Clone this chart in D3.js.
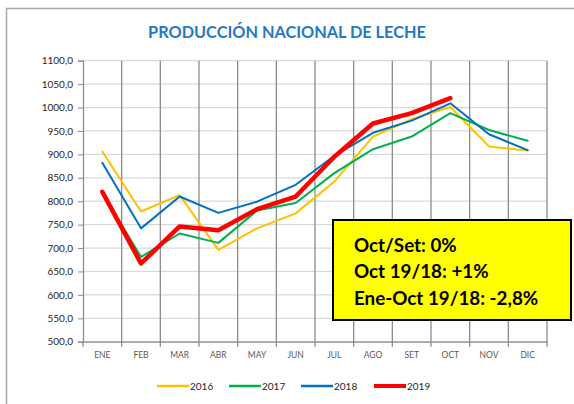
<!DOCTYPE html>
<html>
<head>
<meta charset="utf-8">
<script src="https://cdn.jsdelivr.net/npm/d3@7"></script>
<style>
  body { margin: 0; background: #fff; }
  text { font-family: Lato, "Open Sans", sans-serif; }
</style>
</head>
<body>
<div id="chart-area"></div>
<script>
// Data
var months = ["ENE", "FEB", "MAR", "ABR", "MAY", "JUN", "JUL", "AGO", "SET", "OCT", "NOV", "DIC"];
var yTicks = [500, 550, 600, 650, 700, 750, 800, 850, 900, 950, 1000, 1050, 1100];
var years = ["2016", "2017", "2018", "2019"];
var v2016 = [906, 778, 813, 696, 742, 774, 842, 938, 975, 1001, 917, 908];
var v2017 = [818, 681, 731, 711, 780, 796, 860, 911, 938, 988, 952, 929];
var v2018 = [882, 742, 810, 775, 799, 835, 897, 946, 972, 1009, 943, 909];
var v2019 = [820, 667, 746, 738, 783, 810, 895, 966, 988, 1020];
var noteLines = ["Oct/Set: 0%", "Oct 19/18: +1%", "Ene-Oct 19/18: -2,8%"];

var series = [
    {name: years[0], values: v2016, color: "#FFC000", width: 2},
    {name: years[1], values: v2017, color: "#00B050", width: 2},
    {name: years[2], values: v2018, color: "#0070C0", width: 2},
    {name: years[3], values: v2019, color: "#FF0000", width: 4.5}
];

var W = 574, H = 404;
var plotL = 83, plotR = 547, plotT = 60.7, plotB = 341.7;

var svg = d3.select("#chart-area").append("svg")
    .attr("width", W)
    .attr("height", H);

// outer chart frame (left and top edges visible)
svg.append("path")
    .attr("d", "M6.5,404V8.5H574")
    .attr("fill", "none")
    .attr("stroke", "#a6a6a6")
    .attr("stroke-width", 1.5);

// Title
svg.append("text")
    .attr("x", 287)
    .attr("y", 38)
    .attr("text-anchor", "middle")
    .attr("fill", "#1f78c8")
    .attr("font-weight", "bold")
    .attr("font-size", 16.3)
    .text("PRODUCCIÓN NACIONAL DE LECHE");

// Scales
var x = d3.scaleBand().domain(months).range([plotL, plotR]).padding(0);
var y = d3.scaleLinear().domain([500, 1100]).range([plotB, plotT]);
var cx = (d) => { return x(d) + x.bandwidth() / 2; };

// Horizontal gridlines
svg.append("g")
    .selectAll("line")
    .data(yTicks)
    .enter().append("line")
    .attr("x1", plotL).attr("x2", plotR)
    .attr("y1", (d) => { return y(d); })
    .attr("y2", (d) => { return y(d); })
    .attr("stroke", "#d9d9d9")
    .attr("stroke-width", 1.2);

// Vertical gridlines at category boundaries
var bounds = months.map((m) => { return x(m); }).concat([plotR]);
svg.append("g")
    .selectAll("line")
    .data(bounds.slice(1))
    .enter().append("line")
    .attr("x1", (d) => { return d; })
    .attr("x2", (d) => { return d; })
    .attr("y1", plotT)
    .attr("y2", plotB + 5)
    .attr("stroke", "#8c8c8c")
    .attr("stroke-width", 1.3);

// Y axis
var yAxis = svg.append("g")
    .attr("transform", "translate(" + plotL + ",0)")
    .call(d3.axisLeft(y).tickValues(yTicks).tickSize(5).tickPadding(5)
        .tickFormat((d) => { return d3.format(".1f")(d).replace(".", ","); }));
yAxis.select(".domain").attr("stroke", "#8c8c8c").attr("stroke-width", 1.3);
yAxis.selectAll(".tick line").attr("stroke", "#8c8c8c");
yAxis.selectAll(".tick text")
    .attr("fill", "#262626")
    .attr("font-size", 10)
    .attr("font-family", "Lato, sans-serif");

// X axis
var xAxis = svg.append("g")
    .attr("transform", "translate(0," + plotB + ")")
    .call(d3.axisBottom(x).tickSize(0).tickPadding(10));
xAxis.select(".domain").attr("stroke", "#8c8c8c").attr("stroke-width", 1.3);
xAxis.selectAll(".tick text")
    .attr("fill", "#595959")
    .attr("font-size", 8.5)
    .attr("font-family", "Lato, sans-serif");
svg.append("line")
    .attr("x1", plotL).attr("x2", plotL)
    .attr("y1", plotB).attr("y2", plotB + 5)
    .attr("stroke", "#8c8c8c").attr("stroke-width", 1.3);

// Lines
var line = d3.line()
    .x((d, i) => { return cx(months[i]); })
    .y((d) => { return y(d); });

svg.append("g")
    .selectAll("path")
    .data(series)
    .enter().append("path")
    .attr("fill", "none")
    .attr("stroke", (d) => { return d.color; })
    .attr("stroke-width", (d) => { return d.width; })
    .attr("stroke-linejoin", "round")
    .attr("stroke-linecap", "round")
    .attr("d", (d) => { return line(d.values); });

// Note box
svg.append("rect")
    .attr("x", 333).attr("y", 220)
    .attr("width", 238).attr("height", 100)
    .attr("fill", "#ffff00")
    .attr("stroke", "#000")
    .attr("stroke-width", 2);

svg.append("g")
    .selectAll("text")
    .data(noteLines)
    .enter().append("text")
    .attr("x", 354)
    .attr("y", (d, i) => { return 252 + i * 26.3; })
    .attr("font-size", 18.8)
    .attr("font-weight", "bold")
    .attr("fill", "#000")
    .text((d) => { return d; });

// Legend
var legendX = [157, 229, 301, 374];
var legend = svg.append("g")
    .selectAll("g")
    .data(series)
    .enter().append("g")
    .attr("transform", (d, i) => { return "translate(" + legendX[i] + ",386)"; });
legend.append("line")
    .attr("x1", 0).attr("x2", 32)
    .attr("stroke", (d) => { return d.color; })
    .attr("stroke-width", (d) => { return d.width === 2 ? 2.5 : 4; });
legend.append("text")
    .attr("x", 33)
    .attr("y", 3.5)
    .attr("font-size", 10)
    .attr("fill", "#262626")
    .text((d) => { return d.name; });
</script>
</body>
</html>
